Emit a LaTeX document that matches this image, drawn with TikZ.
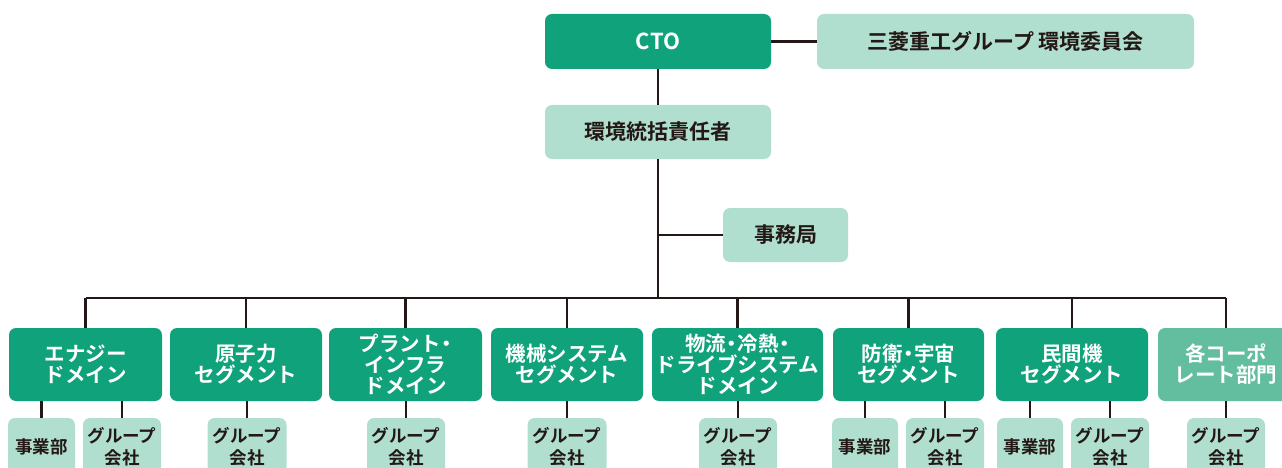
\documentclass[tikz,border=0pt]{standalone}
\usepackage{fontspec}
\newfontfamily\jp{Noto Sans CJK JP}[BoldFont={Noto Sans CJK JP Bold}]
\newcommand{\nd}{\kern-.22em・\kern-.22em}
\definecolor{dkgreen}{HTML}{0FA27B}
\definecolor{ltgreen}{HTML}{B0DFCF}
\definecolor{mdgreen}{HTML}{62BE9F}
\definecolor{ink}{HTML}{231815}
\tikzset{
  box/.style={rounded corners=7pt, inner sep=0pt, align=center},
  dkbox/.style={box, fill=dkgreen, text=white, font=\jp\bfseries\fontsize{20.5}{21}\selectfont},
  mdbox/.style={box, fill=mdgreen, text=white, font=\jp\bfseries\fontsize{20.5}{21}\selectfont},
  ltbox/.style={box, fill=ltgreen, text=ink, font=\jp\bfseries\fontsize{21}{24}\selectfont},
  subbox/.style={box, fill=ltgreen, text=ink, font=\jp\bfseries\fontsize{17.5}{22}\selectfont},
  link/.style={draw=ink, line width=2.3pt},
}
\begin{document}
\begin{tikzpicture}[x=1pt,y=-1pt]
\useasboundingbox (0,0) rectangle (1282,468);
% top
\node[dkbox, minimum width=226pt, minimum height=55pt, font=\jp\bfseries\fontsize{22}{24}\selectfont] (cto) at (658,41.5) {CTO};
\node[ltbox, minimum width=377pt, minimum height=55pt] (comm) at (1005.5,41.5) {三菱重工グループ 環境委員会};
\node[ltbox, minimum width=226pt, minimum height=54pt] (resp) at (658,132) {環境統括責任者};
\node[ltbox, minimum width=125pt, minimum height=54pt] (jimu) at (785.5,235) {事務局};
% domains
\node[dkbox, minimum width=153pt, minimum height=73pt] (d1) at (85.5,364.5) {エナジー\\ドメイン};
\node[dkbox, minimum width=152pt, minimum height=73pt] (d2) at (246,364.5) {原子力\\セグメント};
\node[dkbox, minimum width=153pt, minimum height=73pt] (d3) at (405.5,364.5) {プラント\nd\\インフラ\\ドメイン};
\node[dkbox, minimum width=152pt, minimum height=73pt] (d4) at (567,364.5) {機械システム\\セグメント};
\node[dkbox, minimum width=171pt, minimum height=73pt] (d5) at (737.5,364.5) {物流\nd 冷熱\nd\\ドライブシステム\\ドメイン};
\node[dkbox, minimum width=151pt, minimum height=73pt] (d6) at (908.5,364.5) {防衛\nd 宇宙\\セグメント};
\node[dkbox, minimum width=152pt, minimum height=73pt] (d7) at (1072,364.5) {民間機\\セグメント};
\node[mdbox, minimum width=136pt, minimum height=73pt] (d8) at (1226,364.5) {各コーポ\\レート部門};
% sub boxes
\node[subbox, minimum width=67pt, minimum height=58pt] (s1a) at (41.5,447) {事業部};
\node[subbox, minimum width=78pt, minimum height=58pt] (s1b) at (122,447) {グループ\\会社};
\node[subbox, minimum width=79pt, minimum height=58pt] (s2) at (247,447) {グループ\\会社};
\node[subbox, minimum width=78pt, minimum height=58pt] (s3) at (406,447) {グループ\\会社};
\node[subbox, minimum width=79pt, minimum height=58pt] (s4) at (567,447) {グループ\\会社};
\node[subbox, minimum width=78pt, minimum height=58pt] (s5) at (738,447) {グループ\\会社};
\node[subbox, minimum width=66pt, minimum height=58pt] (s6a) at (865,447) {事業部};
\node[subbox, minimum width=78pt, minimum height=58pt] (s6b) at (945,447) {グループ\\会社};
\node[subbox, minimum width=66pt, minimum height=58pt] (s7a) at (1030,447) {事業部};
\node[subbox, minimum width=78pt, minimum height=58pt] (s7b) at (1110,447) {グループ\\会社};
\node[subbox, minimum width=78pt, minimum height=58pt] (s8) at (1226,447) {グループ\\会社};
% connectors
\coordinate (bus) at (657,298);
\draw[link] (cto) -- (comm);
\draw[link] (cto.south) -- (resp.north);
\draw[link] (resp.south) -- (resp.south |- bus);
\draw[link] (resp.south |- jimu.west) -- (jimu.west);
\draw[link] (d1.north |- bus) -- (d8.north |- bus);
\foreach \d in {d1,d2,d3,d4,d5,d6,d7,d8}
  \draw[link] (\d.north) -- (\d.north |- bus);
\draw[link] (s1a.north) -- (s1a.north |- d1.south);
\draw[link] (s1b.north) -- (s1b.north |- d1.south);
\draw[link] (s2.north) -- (s2.north |- d2.south);
\draw[link] (s3.north) -- (s3.north |- d3.south);
\draw[link] (s4.north) -- (s4.north |- d4.south);
\draw[link] (s5.north) -- (s5.north |- d5.south);
\draw[link] (s6a.north) -- (s6a.north |- d6.south);
\draw[link] (s6b.north) -- (s6b.north |- d6.south);
\draw[link] (s7a.north) -- (s7a.north |- d7.south);
\draw[link] (s7b.north) -- (s7b.north |- d7.south);
\draw[link] (s8.north) -- (s8.north |- d8.south);
\end{tikzpicture}
\end{document}
